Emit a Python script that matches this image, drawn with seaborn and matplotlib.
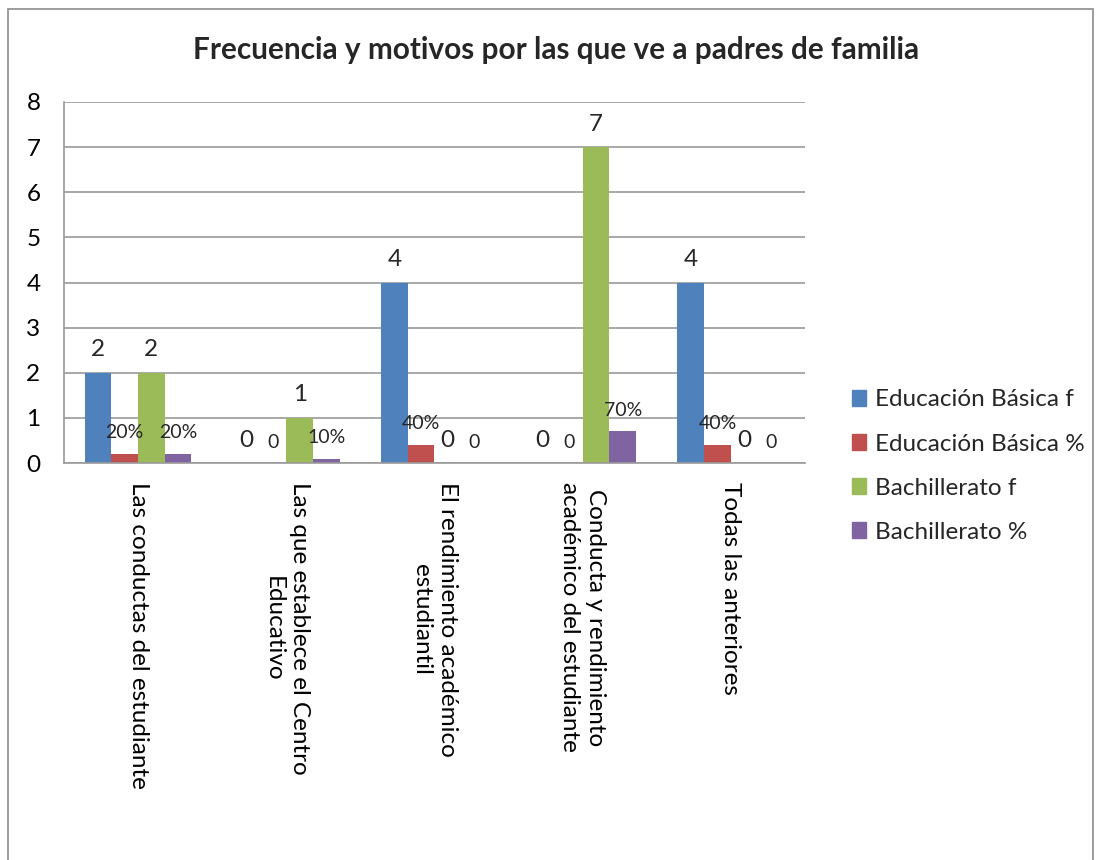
import pandas as pd
import matplotlib
matplotlib.use("Agg")
import matplotlib.pyplot as plt
import seaborn as sns
from matplotlib.patches import Rectangle

# ==========================================
# Data
# ==========================================
categorias = [
    "Las conductas del estudiante",
    "Las que establece el Centro\nEducativo",
    "El rendimiento académico\nestudiantil",
    "Conducta y rendimiento\nacadémico del estudiante",
    "Todas las anteriores",
]
series = ["Educación Básica f", "Educación Básica %", "Bachillerato f", "Bachillerato %"]
basica_f = [2, 0, 4, 0, 4]
basica_pct = [0.2, 0, 0.4, 0, 0.4]
bach_f = [2, 1, 0, 7, 0]
bach_pct = [0.2, 0.1, 0, 0.7, 0]

colores = ["#4F81BD", "#C0504D", "#9BBB59", "#8064A2"]

df = pd.DataFrame({
    "Motivo": categorias * 4,
    "Serie": [s for s in series for _ in categorias],
    "Valor": basica_f + basica_pct + bach_f + bach_pct,
})

# ==========================================
# Style
# ==========================================
sns.set_theme(style="white")
plt.rcParams['font.family'] = ['Lato', 'DejaVu Sans']

fig = plt.figure(figsize=(10.96, 8.60), dpi=100)
ax = fig.add_axes([0.0584, 0.4616, 0.676, 0.4198])

sns.barplot(
    data=df, x="Motivo", y="Valor", hue="Serie",
    hue_order=series, palette=colores, width=0.72,
    saturation=1, linewidth=0, ax=ax, legend=False
)

# outer chart border (Excel style)
fig.patches.append(Rectangle((8 / 1096, -0.05), 1085 / 1096, 1 - 9 / 860 + 0.05,
                             transform=fig.transFigure, fill=False,
                             edgecolor="#8c8c8c", linewidth=1.2))

ax.set_ylim(0, 8)
ax.set_yticks(range(0, 9))
ax.yaxis.grid(True, color="#9a9a9a", linewidth=1.2)
ax.set_axisbelow(True)
ax.set_xlabel("")
ax.set_ylabel("")
for side in ["top", "right"]:
    ax.spines[side].set_visible(False)
for side in ["left", "bottom"]:
    ax.spines[side].set_color("#9a9a9a")
    ax.spines[side].set_linewidth(1.2)

ax.tick_params(axis="y", length=0, pad=17, labelsize=17.5, colors="black")
ax.tick_params(axis="x", length=0, pad=14, labelsize=17.5, colors="black")
ax.set_xticks(range(len(categorias)))
ax.set_xticklabels(categorias, rotation=270, va="top", ha="center",
                   multialignment="center", linespacing=1.3)

# data labels
for i, cont in enumerate(ax.containers):
    if series[i].endswith("%"):
        etiquetas = [f"{v * 100:.0f}%" if v > 0 else "0" for v in cont.datavalues]
        ax.bar_label(cont, labels=etiquetas, padding=9, fontsize=14)
    else:
        etiquetas = [f"{v:.0f}" for v in cont.datavalues]
        ax.bar_label(cont, labels=etiquetas, padding=9, fontsize=17.5)

fig.text(0.507, 0.942, "Frecuencia y motivos por las que ve a padres de familia",
         ha="center", va="center", fontsize=21.4, fontweight="bold")

handles = [Rectangle((0, 0), 1, 1, color=c) for c in colores]
fig.legend(handles, series, loc="center left", bbox_to_anchor=(0.757, 0.458),
           frameon=False, fontsize=17.5, handlelength=0.6, handleheight=0.6,
           handletextpad=0.35, labelspacing=0.95)

plt.savefig("out.png", dpi=100)
